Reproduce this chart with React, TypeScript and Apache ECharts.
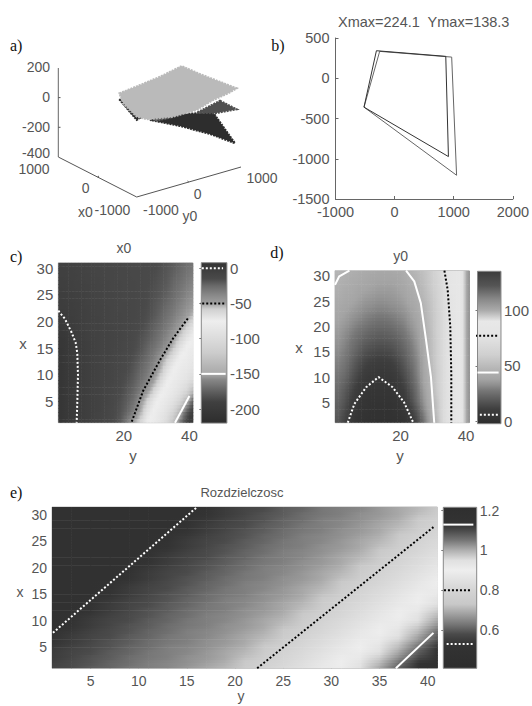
import React, { useEffect, useRef } from "react";
import * as echarts from "echarts";

const SANS = '"Liberation Sans", Arial, sans-serif';
const SERIF = '"Liberation Serif", "Times New Roman", serif';
const TEXT = "#555555";

// ---------- panel a: projected view of the 3-D surfaces
const surfaceDark = [[150,120],[171.7,114.3],[213.3,112.7],[235,143.3],[210,134],[180,126]];
const surfaceSliver = [[119.3,99.3],[125,101.7],[141.7,116.7],[136.7,120]];
const surfaceMedium = [[220,100.7],[236.7,109.3],[215,113.3],[196.7,112.7]];
const surfacePatch = [[153.3,116.7],[170,113.3],[171.7,117.3],[155,120.7]];
const surfaceLight = [[119.3,93.3],[140,85],[160,76.7],[181.7,66],[200,74],[236.7,88.3],[228.3,93.3],[213.3,100],[196.7,110],[173.3,116.7],[146.7,119.3],[136.7,116.7],[123.3,103.3]];
const axisZ = [[58.3,68],[58.3,157]];
const axisX0 = [[58.3,157],[136.7,197]];
const axisY0 = [[136.7,197],[241,167]];
const ticks3d = [[[58.3,97.6],[60.5,97.6]],[[58.3,127.3],[60.5,127.3]],[[97.5,177],[99,176]],[[188.8,182],[187.5,181]]];

// ---------- panel b
const quadBlack = [[-308,342],[865,272],[910,-973],[-518,-359],[-308,342]];
const quadGray = [[-253,334],[965,263],[1048,-1205],[-518,-359],[-253,334]];

// ---------- panel c : x0
const cCols = [1,3,5,7,9,11,13,15,17,19,21,23,25,27,29,31,33,35,37,39,41];
const cRows = [31,29,27,25,23,21,19,17,15,13,11,9,7,5,3,1];
const cValues = [
[-5,-6,-7,-8,-9,-10,-11,-11,-12,-12,-13,-13,-14,-14,-15,-16,-18,-20,-23,-26,-30],
[-4,-5,-6,-7,-8,-9,-10,-11,-11,-12,-12,-13,-13,-14,-15,-17,-19,-22,-25,-29,-33],
[-3,-4,-5,-6,-7,-8,-9,-10,-11,-11,-12,-12,-13,-14,-16,-18,-20,-24,-28,-32,-37],
[-2,-3,-4,-5,-6,-8,-9,-10,-10,-11,-12,-12,-13,-15,-17,-19,-22,-26,-31,-36,-42],
[-1,-2,-3,-4,-6,-7,-8,-9,-10,-11,-11,-12,-13,-15,-18,-21,-25,-29,-35,-41,-48],
[1,-1,-2,-4,-5,-6,-8,-9,-10,-10,-11,-12,-14,-16,-19,-23,-28,-33,-40,-48,-55],
[3,1,-1,-3,-5,-6,-7,-8,-9,-10,-11,-13,-15,-18,-22,-26,-32,-39,-48,-58,-68],
[4,2,0,-2,-4,-6,-7,-8,-9,-10,-12,-14,-17,-20,-24,-30,-37,-47,-58,-68,-75],
[5,3,1,-1,-3,-5,-7,-8,-9,-11,-13,-15,-18,-23,-28,-35,-45,-56,-68,-76,-80],
[5,3,1,-1,-3,-5,-7,-8,-10,-12,-14,-17,-21,-26,-33,-45,-57,-67,-76,-80,-84],
[5,3,1,-1,-3,-5,-7,-9,-11,-13,-15,-19,-24,-30,-39,-52,-66,-75,-80,-84,-90],
[5,3,1,-1,-3,-5,-7,-9,-11,-14,-17,-21,-27,-35,-48,-62,-73,-79,-84,-90,-100],
[5,3,1,-1,-3,-5,-8,-10,-12,-15,-19,-24,-32,-45,-60,-72,-78,-84,-92,-105,-135],
[5,3,1,-1,-3,-5,-8,-10,-13,-17,-21,-28,-44,-60,-71,-78,-84,-92,-108,-140,-175],
[5,3,1,-1,-3,-6,-8,-11,-14,-18,-24,-35,-52,-68,-76,-83,-92,-108,-140,-175,-195],
[5,3,1,-1,-3,-6,-9,-12,-15,-20,-33,-52,-62,-74,-80,-88,-102,-130,-165,-190,-205],
];
const cContourZero = [[0,22],[2,20.5],[4,18],[5.3,16],[5.8,14],[6,10],[5.8,5],[5.6,1]];
const cContourFifty = [[22.4,1.2],[25.9,7],[31,12.7],[35,16.8],[39.7,20.7]];
const cContourHundredFifty = [[35.6,1],[40,6]];
const cLevels = [0,-50,-150];
const cGrays = [[8,0x33],[0,0x3c],[-15,0x4a],[-25,0x6a],[-38,0x88],[-50,0xa0],[-58,0xd0],[-75,0xee],[-98,0xdd],[-120,0xcc],[-140,0xb4],[-150,0xaa],[-158,0x88],[-175,0x60],[-190,0x40],[-220,0x2d]];
const cBarTicks = [0,-50,-100,-150,-200];

// ---------- panel d : y0
const dValues = [
[47,45,44,43,42,41,40,40,40,41,43,46,49,53,58,64,72,80,85,91,108],
[45,44,42,41,40,39,38,38,38,39,41,44,47,52,57,63,71,79,85,91,108],
[44,42,41,39,38,37,36,36,36,37,39,42,45,50,56,62,70,79,85,91,108],
[42,40,39,37,35,34,33,33,34,35,37,40,43,48,54,61,70,78,85,91,108],
[40,38,36,34,32,31,30,30,31,32,34,37,41,46,53,60,69,78,85,91,108],
[38,36,33,31,29,27,26,26,27,29,31,35,39,45,52,60,69,78,85,91,108],
[36,33,30,27,25,23,22,22,23,25,28,32,37,43,51,60,69,78,85,91,108],
[34,31,27,24,21,19,18,18,19,21,25,29,35,42,50,59,69,78,85,91,108],
[32,29,25,21,17,15,14,14,15,18,22,27,33,41,50,59,69,78,85,91,108],
[30,27,22,17,13,11,10,10,11,14,19,25,31,40,49,59,69,78,85,91,108],
[28,25,19,14,10,8,7,7,8,11,16,22,30,39,47,58,69,78,85,91,108],
[26,22,16,11,7,5,5,5,5,8,13,20,28,38,46,58,69,78,85,91,108],
[24,19,13,8,5,4,4,4,4,6,10,17,26,36,45,57,69,78,85,91,108],
[22,17,10,6,4,3,3,3,3,4,8,14,24,34,43,54,69,78,85,91,108],
[20,14,8,4,3,2,2,2,2,3,5,9,18,30,41,52,69,78,85,91,108],
[18,12,6,3,2,1,1,1,1,2,3,6,14,26,39,48,69,78,85,91,108],
];
const dContourSix = [[3.9,1],[5.9,4.7],[9.5,8],[13.3,10],[17.6,8],[21.1,5],[23.9,1]];
const dContourFortyFour = [[21.7,31],[24.2,28.9],[26.2,24.6],[27.8,17.3],[29.3,10],[30.3,1]];
const dContourFortyFourCorner = [[0,28.2],[1.3,29.9],[4.4,31]];
const dContourSeventySeven = [[33.4,31],[34.4,27.2],[35.2,19.9],[35.5,10.6],[35.5,1]];
const dLevels = [6,44,77];
const dGrays = [[135,0x3c],[122,0x55],[110,0x88],[100,0xaa],[90,0xe8],[77,0xe4],[60,0xd0],[45,0xb0],[38,0xa4],[33,0x90],[28,0x78],[23,0x66],[18,0x55],[11,0x3e],[-2,0x2d]];
const dBarTicks = [0,50,100];

// ---------- panel e : Rozdzielczosc
const eCols = cCols;
const eRows = [31,30,29,28,27,26,25,24,23,22,21,20,19,18,17,16,15,14,13,12,11,10,9,8,7,6,5,4,3,2,1];
const eValues = [
[.48,.48,.48,.48,.48,.48,.48,.48,.52,.55,.57,.58,.60,.61,.63,.64,.65,.67,.69,.71,.75],
[.48,.48,.48,.48,.48,.48,.48,.49,.53,.55,.57,.59,.60,.62,.63,.64,.66,.67,.69,.72,.76],
[.48,.48,.48,.48,.48,.48,.48,.51,.54,.56,.58,.59,.61,.62,.64,.65,.66,.68,.70,.74,.78],
[.48,.48,.48,.48,.48,.48,.48,.52,.55,.57,.58,.60,.61,.63,.64,.65,.67,.69,.71,.75,.79],
[.48,.48,.48,.48,.48,.48,.49,.53,.55,.57,.59,.60,.62,.63,.64,.66,.67,.69,.72,.76,.80],
[.48,.48,.48,.48,.48,.48,.51,.54,.56,.58,.59,.61,.62,.64,.65,.66,.68,.70,.74,.78,.81],
[.48,.48,.48,.48,.48,.48,.52,.55,.57,.58,.60,.61,.63,.64,.65,.67,.69,.71,.75,.79,.82],
[.48,.48,.48,.48,.48,.49,.53,.55,.57,.59,.60,.62,.63,.64,.66,.67,.69,.72,.76,.80,.83],
[.48,.48,.48,.48,.48,.51,.54,.56,.58,.59,.61,.62,.64,.65,.66,.68,.70,.74,.78,.81,.84],
[.48,.48,.48,.48,.48,.52,.55,.57,.58,.60,.61,.63,.64,.65,.67,.69,.71,.75,.79,.82,.85],
[.48,.48,.48,.48,.49,.53,.55,.57,.59,.60,.62,.63,.64,.66,.67,.69,.72,.76,.80,.83,.86],
[.48,.48,.48,.48,.51,.54,.56,.58,.59,.61,.62,.64,.65,.66,.68,.70,.74,.78,.81,.84,.87],
[.48,.48,.48,.48,.52,.55,.57,.58,.60,.61,.63,.64,.65,.67,.69,.71,.75,.79,.82,.85,.88],
[.48,.48,.48,.49,.53,.55,.57,.59,.60,.62,.63,.64,.66,.67,.69,.72,.76,.80,.83,.86,.89],
[.48,.48,.48,.51,.54,.56,.58,.59,.61,.62,.64,.65,.66,.68,.70,.74,.78,.81,.84,.87,.90],
[.48,.48,.48,.52,.55,.57,.58,.60,.61,.63,.64,.65,.67,.69,.71,.75,.79,.82,.85,.88,.91],
[.48,.48,.49,.53,.55,.57,.59,.60,.62,.63,.64,.66,.67,.69,.72,.76,.80,.83,.86,.89,.92],
[.48,.48,.51,.54,.56,.58,.59,.61,.62,.64,.65,.66,.68,.70,.74,.78,.81,.84,.87,.90,.94],
[.48,.48,.52,.55,.57,.58,.60,.61,.63,.64,.65,.67,.69,.71,.75,.79,.82,.85,.88,.91,.95],
[.48,.49,.53,.55,.57,.59,.60,.62,.63,.64,.66,.67,.69,.72,.76,.80,.83,.86,.89,.92,.97],
[.48,.51,.54,.56,.58,.59,.61,.62,.64,.65,.66,.68,.70,.74,.78,.81,.84,.87,.90,.94,.99],
[.48,.52,.55,.57,.58,.60,.61,.63,.64,.65,.67,.69,.71,.75,.79,.82,.85,.88,.91,.95,1.01],
[.49,.53,.55,.57,.59,.60,.62,.63,.64,.66,.67,.69,.72,.76,.80,.83,.86,.89,.92,.97,1.03],
[.51,.54,.56,.58,.59,.61,.62,.64,.65,.66,.68,.70,.74,.78,.81,.84,.87,.90,.94,.99,1.06],
[.52,.55,.57,.58,.60,.61,.63,.64,.65,.67,.69,.71,.75,.79,.82,.85,.88,.91,.95,1.01,1.08],
[.53,.55,.57,.59,.60,.62,.63,.64,.66,.67,.69,.72,.76,.80,.83,.86,.89,.92,.97,1.03,1.10],
[.54,.56,.58,.59,.61,.62,.64,.65,.66,.68,.70,.74,.78,.81,.84,.87,.90,.94,.99,1.06,1.13],
[.55,.57,.58,.60,.61,.63,.64,.65,.67,.69,.71,.75,.79,.82,.85,.88,.91,.95,1.01,1.08,1.15],
[.55,.57,.59,.60,.62,.63,.64,.66,.67,.69,.72,.76,.80,.83,.86,.89,.92,.97,1.03,1.10,1.16],
[.56,.58,.59,.61,.62,.64,.65,.66,.68,.70,.74,.78,.81,.84,.87,.90,.94,.99,1.06,1.13,1.17],
[.57,.58,.60,.61,.63,.64,.65,.67,.69,.71,.75,.79,.82,.85,.88,.91,.95,1.01,1.08,1.15,1.18],
];
const eContourLow = [[1.1,7.7],[16,31.4]];
const eContourMid = [[22.3,1],[40.6,27.7]];
const eContourHigh = [[36.7,1],[40.6,7.7]];
const eLevels = [.53,.8,1.13];
const eGrays = [[1.217,0x2f],[1.13,0x33],[1.1,0x4a],[1.05,0x77],[1,0xb0],[.95,0xe0],[.9,0xee],[.8,0xd4],[.73,0xc8],[.68,0xa0],[.63,0x77],[.58,0x4a],[.53,0x33],[.408,0x2d]];
const eBarTicks = [.6,.8,1,1.2];

const grayAt = (stops: number[][], v: number) => {
  let g = stops[stops.length - 1][1];
  if (v >= stops[0][0]) g = stops[0][1];
  else for (let i = 0; i < stops.length - 1; i++) {
    const [a, ga] = stops[i], [b, gb] = stops[i + 1];
    if (v <= a && v >= b) { g = ga + ((a - v) / (a - b)) * (gb - ga); break; }
  }
  const h = Math.round(g);
  return `rgb(${h},${h},${h})`;
};

// Each cell spans four read values and is shaded between them at draw time,
// like a surface with interpolated shading; no values are added to the arrays.
const heatSeries = (xi: number, cols: number[], rows: number[], vals: number[][], stops: number[][], axisMinX: number, axisMaxY: number, subRows: number, subCols: number) => {
  const xs = axisMinX < cols[0] ? [axisMinX, ...cols] : cols;
  const ys = axisMaxY > rows[0] ? [axisMaxY, ...rows] : rows;
  const table = (axisMaxY > rows[0] ? [vals[0], ...vals] : vals).map((row) => (axisMinX < cols[0] ? [row[0], ...row] : row));
  const data: number[][] = [];
  for (let r = 0; r < ys.length - 1; r++) for (let c = 0; c < xs.length - 1; c++) data.push([xs[c], ys[r], r, c]);
  return {
    type: "custom", xAxisIndex: xi, yAxisIndex: xi, clip: true, silent: true, z: 2,
    data, encode: { x: 0, y: 1 },
    renderItem: (_p: any, api: any) => {
      const r = api.value(2), c = api.value(3);
      const x0 = xs[c], x1 = xs[c + 1], y0 = ys[r], y1 = ys[r + 1];
      const at = (u: number, t: number) => {
        const top = table[r][c] + (table[r][c + 1] - table[r][c]) * u;
        const bot = table[r + 1][c] + (table[r + 1][c + 1] - table[r + 1][c]) * u;
        return top + (bot - top) * t;
      };
      const children: any[] = [];
      for (let s = 0; s < subRows; s++) for (let k = 0; k < subCols; k++) {
        const t = (s + 0.5) / subRows, u0 = k / subCols, u1 = (k + 1) / subCols;
        const a = api.coord([x0 + (x1 - x0) * u0, y0 + (y1 - y0) * (s / subRows)]);
        const b = api.coord([x0 + (x1 - x0) * u1, y0 + (y1 - y0) * ((s + 1) / subRows)]);
        children.push({
          type: "rect",
          shape: { x: a[0], y: a[1], width: b[0] - a[0] + 0.6, height: b[1] - a[1] + 0.6 },
          style: { fill: new echarts.graphic.LinearGradient(0, 0, 1, 0, [
            { offset: 0, color: grayAt(stops, at(u0, t)) },
            { offset: 1, color: grayAt(stops, at(u1, t)) },
          ]) },
        });
      }
      return { type: "group", children };
    },
  };
};

const barSeries = (xi: number, stops: number[][]) => {
  const top = stops[0][0], bottom = stops[stops.length - 1][0];
  return {
    type: "custom", xAxisIndex: xi, yAxisIndex: xi, silent: true, z: 2,
    data: [[0, top]], encode: { x: 0, y: 1 },
    renderItem: (_p: any, api: any) => {
      const a = api.coord([0, top]), b = api.coord([1, bottom]);
      return {
        type: "rect",
        shape: { x: a[0], y: a[1], width: b[0] - a[0], height: b[1] - a[1] },
        style: { stroke: "#888888", lineWidth: 1, fill: new echarts.graphic.LinearGradient(0, 0, 0, 1,
          stops.map(([v, g]) => ({ offset: (top - v) / (top - bottom), color: `rgb(${g},${g},${g})` }))) },
      };
    },
  };
};

const lineSeries = (xi: number, data: number[][], color: string, dotted: boolean, width = 2, clip = false) => ({
  type: "line", xAxisIndex: xi, yAxisIndex: xi, data, showSymbol: false, symbol: "none", silent: true, z: 5, clip,
  lineStyle: { color, width, type: dotted ? [2, 2] : "solid" },
});

const polySeries = (pts: number[][], color: string) => ({
  type: "custom", xAxisIndex: 0, yAxisIndex: 0, silent: true, z: 3, data: [[0, 0]],
  renderItem: (_p: any, api: any) => ({
    type: "polygon",
    shape: { points: pts.map((p) => api.coord(p)) },
    style: { fill: color, stroke: color, lineWidth: 2, lineDash: [2, 1] },
  }),
});

const label = (x: number, y: number, text: string, font: string, fill = TEXT, align = "center") => ({
  type: "text", x, y, silent: true, z: 20,
  style: { text, font, fill, align, textAlign: align, verticalAlign: "middle", textVerticalAlign: "middle" },
});

const tickFont = (size: number) => ({ color: TEXT, fontFamily: SANS, fontSize: size });
const plotX = (i: number, min: number, max: number, vals: number[], size: number, margin: number) => ({
  type: "value", gridIndex: i, min, max, splitLine: { show: false }, axisLine: { show: false },
  axisTick: { show: true, inside: true, length: 2, customValues: vals, lineStyle: { color: "#999" } },
  axisLabel: { ...tickFont(size), margin, customValues: vals },
});
const plotY = (i: number, min: number, max: number, vals: number[], size: number, margin: number, pos = "left") => ({
  type: "value", gridIndex: i, min, max, position: pos, splitLine: { show: false }, axisLine: { show: false },
  axisTick: { show: true, inside: true, length: 2, customValues: vals, lineStyle: { color: "#777" } },
  axisLabel: { ...tickFont(size), margin, customValues: vals },
});
const hiddenX = (i: number, min = 0, max = 1) => ({ type: "value", gridIndex: i, min, max, show: false });
const plain = (v: number) => String(v);

const barMarks = (xi: number, levels: number[], styles: [string, boolean, number, number][]) =>
  levels.map((l, i) => lineSeries(xi, [[styles[i][2], l], [styles[i][3], l]], styles[i][0], styles[i][1]));

export default function App() {
  const ref = useRef<HTMLDivElement>(null);
  useEffect(() => {
    const chart = echarts.init(ref.current!, undefined, { renderer: "svg" });
    const border = { show: true, borderColor: "#bbbbbb", borderWidth: 1, backgroundColor: "transparent" };
    chart.setOption({
      animation: false,
      grid: [
        { left: 40, top: 50, width: 240, height: 170 },
        { left: 335.5, top: 38, width: 180.5, height: 161 },
        { left: 58.3, top: 262.7, width: 134.4, height: 160, ...border },
        { left: 201.3, top: 262.7, width: 25.6, height: 160.4 },
        { left: 335, top: 270.7, width: 134.3, height: 152, ...border },
        { left: 477.5, top: 271.3, width: 25.8, height: 152.4 },
        { left: 52, top: 507, width: 385.3, height: 161.3, ...border },
        { left: 443.3, top: 507.3, width: 33.4, height: 161 },
      ],
      xAxis: [
        hiddenX(0, 40, 280),
        { type: "value", gridIndex: 1, min: -1000, max: 2000, interval: 1000, splitLine: { show: false },
          axisLine: { show: true, onZero: false, lineStyle: { color: "#666" } }, axisTick: { inside: true, length: 3, lineStyle: { color: "#666" } },
          axisLabel: { ...tickFont(14.5), margin: 5, hideOverlap: false, formatter: plain } },
        plotX(2, 0, 41, [20, 40], 15, 5),
        hiddenX(3),
        plotX(4, 0, 41, [20, 40], 15, 5),
        hiddenX(5),
        plotX(6, 1, 41, [5,10,15,20,25,30,35,40], 14, 6),
        hiddenX(7),
      ],
      yAxis: [
        { type: "value", gridIndex: 0, min: 50, max: 220, inverse: true, show: false },
        { type: "value", gridIndex: 1, min: -1500, max: 500, interval: 500, splitLine: { show: false },
          axisLine: { show: true, onZero: false, lineStyle: { color: "#666" } }, axisTick: { inside: true, length: 3, lineStyle: { color: "#666" } },
          axisLabel: { ...tickFont(14.5), margin: 6, hideOverlap: false, formatter: plain } },
        plotY(2, 1, 31, [5,10,15,20,25,30], 15, 5),
        plotY(3, -220, 8, cBarTicks, 15, 3, "right"),
        plotY(4, 1, 31, [5,10,15,20,25,30], 15, 5),
        plotY(5, -2, 135, dBarTicks, 15, 3, "right"),
        plotY(6, 1, 31.5, [5,10,15,20,25,30], 14, 5),
        plotY(7, .408, 1.217, eBarTicks, 14, 3, "right"),
      ],
      series: [
        lineSeries(0, axisZ, "#666666", false, 1),
        lineSeries(0, axisX0, "#555555", false, 1),
        lineSeries(0, axisY0, "#555555", false, 1),
        ...ticks3d.map((t) => lineSeries(0, t, "#555555", false, 1)),
        polySeries(surfaceDark, "#2d2d2d"),
        polySeries(surfaceSliver, "#2d2d2d"),
        polySeries(surfaceMedium, "#505050"),
        polySeries(surfacePatch, "#666666"),
        polySeries(surfaceLight, "#bababa"),
        lineSeries(1, quadGray, "#666666", false, 1),
        lineSeries(1, quadBlack, "#333333", false, 1),
        heatSeries(2, cCols, cRows, cValues, cGrays, 0, 31, 3, 2),
        lineSeries(2, cContourZero, "#ffffff", true),
        lineSeries(2, cContourFifty, "#000000", true),
        lineSeries(2, cContourHundredFifty, "#ffffff", false),
        barSeries(3, cGrays),
        ...barMarks(3, cLevels, [["#ffffff", true, .02, .85], ["#000000", true, -.12, .95], ["#ffffff", false, 0, .95]]),
        heatSeries(4, cCols, cRows, dValues, dGrays, 0, 31, 3, 2),
        lineSeries(4, dContourSix, "#ffffff", true),
        lineSeries(4, dContourFortyFour, "#ffffff", false),
        lineSeries(4, dContourFortyFourCorner, "#ffffff", false),
        lineSeries(4, dContourSeventySeven, "#000000", true),
        barSeries(5, dGrays),
        ...barMarks(5, dLevels, [["#ffffff", true, .1, .95], ["#ffffff", false, 0, .9], ["#000000", true, -.1, .9]]),
        heatSeries(6, eCols, eRows, eValues, eGrays, 1, 31.5, 2, 1),
        lineSeries(6, eContourLow, "#ffffff", true),
        lineSeries(6, eContourMid, "#000000", true),
        lineSeries(6, eContourHigh, "#ffffff", false),
        barSeries(7, eGrays),
        ...barMarks(7, eLevels, [["#ffffff", true, 0.1, .9], ["#000000", true, -.1, .85], ["#ffffff", false, 0, .9]]),
      ],
      graphic: [
        label(10, 45, "a)", `16px ${SERIF}`, "#111111", "left"),
        label(278, 45, "b)", `16px ${SERIF}`, "#111111", "center"),
        label(10, 256, "c)", `16px ${SERIF}`, "#111111", "left"),
        label(277, 252, "d)", `16px ${SERIF}`, "#111111", "center"),
        label(10, 492, "e)", `16px ${SERIF}`, "#111111", "left"),
        label(423.7, 22, "Xmax=224.1  Ymax=138.3", `14.5px ${SANS}`),
        label(124, 248, "x0", `14px ${SANS}`),
        label(400.7, 256, "y0", `14px ${SANS}`),
        label(242, 492, "Rozdzielczosc", `13px ${SANS}`),
        label(23, 343, "x", `15px ${SANS}`),
        label(133, 455, "y", `15px ${SANS}`),
        label(299, 347.7, "x", `15px ${SANS}`),
        label(400, 455, "y", `15px ${SANS}`),
        label(20, 591.7, "x", `14px ${SANS}`),
        label(241, 696, "y", `14px ${SANS}`),
        label(50, 67, "200", `14px ${SANS}`, TEXT, "right"),
        label(50, 97, "0", `14px ${SANS}`, TEXT, "right"),
        label(50, 127, "-200", `14px ${SANS}`, TEXT, "right"),
        label(50, 152.5, "-400", `14px ${SANS}`, TEXT, "right"),
        label(34, 169, "1000", `14px ${SANS}`),
        label(85.7, 188, "0", `14px ${SANS}`),
        label(112.5, 210, "-1000", `14px ${SANS}`),
        label(85.5, 212, "x0", `14px ${SANS}`),
        label(161, 210, "-1000", `14px ${SANS}`),
        label(197.7, 194, "0", `14px ${SANS}`),
        label(190, 216, "y0", `14px ${SANS}`),
        label(262, 178, "1000", `14px ${SANS}`),
      ],
    });
    return () => chart.dispose();
  }, []);
  return <div ref={ref} style={{ position: "absolute", left: 0, top: 0, width: 532, height: 706, background: "#fff" }} />;
}
